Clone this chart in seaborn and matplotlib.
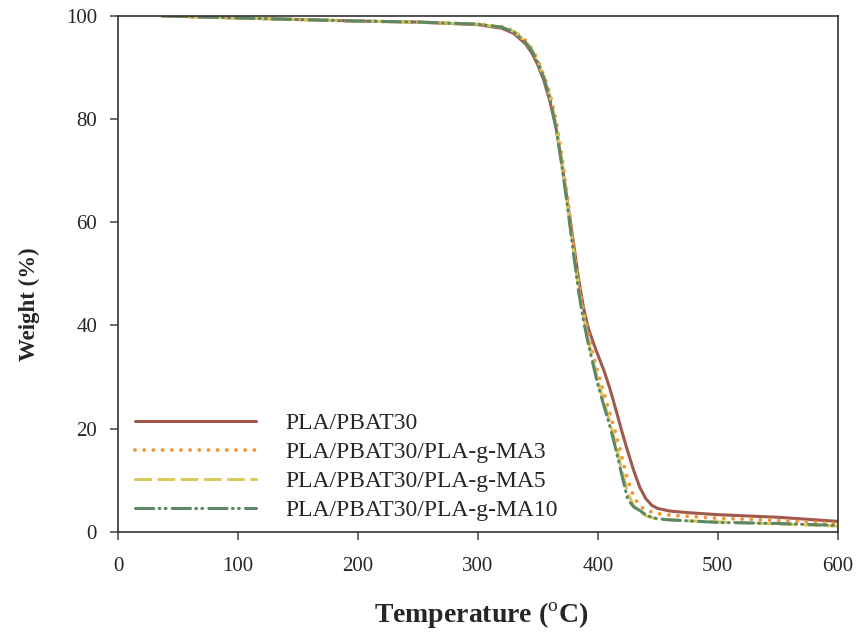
import matplotlib
matplotlib.use("Agg")
import matplotlib.pyplot as plt
import seaborn as sns
import pandas as pd

# TGA data
temperature = [37, 100, 150, 200, 250, 300, 320, 330, 340, 345, 350, 355, 360, 365, 370,
               375, 380, 384, 388, 392, 396, 400, 405, 410, 415, 420, 425, 430, 435, 440, 445,
               450, 460, 475, 500, 550, 600]

pbat30 = [100, 99.6, 99.3, 99.0, 98.8, 98.3, 97.6, 96.6, 94.5, 92.8, 90.5, 87.5, 83.5, 78.5, 71.5,
          63.5, 55.5, 49.0, 43.5, 39.5, 36.8, 34.3, 31.3, 27.8, 23.7, 19.5, 15.5, 11.8, 8.6, 6.4, 5.1,
          4.5, 4.0, 3.7, 3.3, 2.8, 2.0]
ma3 = [100, 99.6, 99.3, 99.0, 98.8, 98.4, 97.9, 97.1, 95.2, 93.7, 91.5, 88.5, 85.0, 80.0, 73.0,
       64.5, 55.5, 48.5, 43.0, 38.5, 34.5, 30.8, 27.0, 23.0, 19.0, 14.5, 10.0, 6.7, 5.0, 4.2, 3.8,
       3.5, 3.2, 3.0, 2.6, 2.2, 1.6]
ma5 = [100, 99.6, 99.3, 99.0, 98.8, 98.4, 97.8, 97.0, 95.0, 93.4, 91.2, 88.2, 84.5, 79.0, 72.0,
       63.0, 54.0, 47.2, 41.8, 37.2, 33.2, 29.3, 25.3, 21.3, 17.0, 12.0, 7.5, 5.0, 3.9, 3.1, 2.7,
       2.5, 2.3, 2.1, 1.9, 1.5, 1.1]
ma10 = [100, 99.6, 99.3, 99.0, 98.8, 98.4, 97.8, 96.9, 94.8, 93.2, 91.0, 88.0, 84.0, 78.5, 71.0,
        62.5, 53.5, 46.5, 41.0, 36.5, 32.5, 28.5, 24.5, 20.5, 16.0, 11.0, 6.2, 4.8, 4.1, 3.3, 2.8,
        2.5, 2.3, 2.1, 1.8, 1.6, 1.2]

labels = ["PLA/PBAT30", "PLA/PBAT30/PLA-g-MA3", "PLA/PBAT30/PLA-g-MA5", "PLA/PBAT30/PLA-g-MA10"]
colors = ["#A05A4C", "#F5953A", "#D8C95C", "#5E8766"]
styles = ["-", (0, (0.01, 2.35)), (0, (5, 2.6)), (0, (6, 1.7, 0.3, 1.7, 0.3, 2))]
widths = [2.2, 2.8, 2.2, 2.2]

sns.set_style("ticks")
plt.rcParams["font.family"] = ["Liberation Serif", "DejaVu Serif"]
plt.rcParams["mathtext.fontset"] = "custom"
plt.rcParams["mathtext.rm"] = "Liberation Serif"

fig = plt.figure(figsize=(8.61, 6.36), dpi=100)
ax = fig.add_axes([0.137, 0.164, 0.836, 0.811])

for lab, ys, c, ls, lw in zip(labels, [pbat30, ma3, ma5, ma10], colors, styles, widths):
    df = pd.DataFrame({"T": temperature, "W": ys})
    sns.lineplot(data=df, x="T", y="W", ax=ax, color=c, linestyle=ls, lw=lw,
                 label=lab, dash_capstyle="round")

ax.set_xlim(0, 600)
ax.set_ylim(0, 100)
ax.set_xticks(range(0, 601, 100))
ax.set_yticks(range(0, 101, 20))
ax.tick_params(labelsize=15, length=6, width=1.1, color="#444444", direction="out")
ax.tick_params(axis="x", pad=12)
ax.tick_params(axis="y", pad=9)
for s in ax.spines.values():
    s.set_color("#333333")
    s.set_linewidth(1.2)

ax.set_xlabel(r"Temperature ($^{\mathrm{o}}$C)", fontsize=20, fontweight="bold")
ax.set_ylabel("Weight (%)", fontsize=16.5, fontweight="bold")
ax.xaxis.set_label_coords(0.505, -0.133)
ax.yaxis.set_label_coords(-0.108, 0.442)

ax.legend(loc="lower left", bbox_to_anchor=(0.024, 0.02), frameon=False, fontsize=17,
          handlelength=5.1, handletextpad=1.25, labelspacing=0.32, borderaxespad=0,
          borderpad=0)

fig.savefig("out.png", dpi=100)
